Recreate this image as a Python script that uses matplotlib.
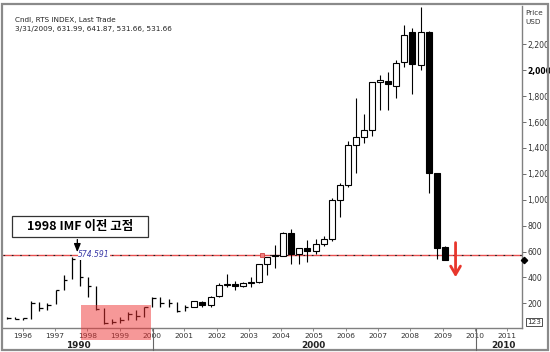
import matplotlib
matplotlib.use("Agg")
import matplotlib.pyplot as plt
from matplotlib.patches import Rectangle
import numpy as np

plt.rcParams['font.family'] = ['DejaVu Sans']

# ---- data (quarterly candles, RTS index) ----
quarters = ["1995Q3", "1995Q4",
            "1996Q1", "1996Q2", "1996Q3", "1996Q4",
            "1997Q1", "1997Q2", "1997Q3", "1997Q4",
            "1998Q1", "1998Q2", "1998Q3", "1998Q4",
            "1999Q1", "1999Q2", "1999Q3", "1999Q4",
            "2000Q1", "2000Q2", "2000Q3", "2000Q4",
            "2001Q1", "2001Q2", "2001Q3", "2001Q4",
            "2002Q1", "2002Q2", "2002Q3", "2002Q4",
            "2003Q1", "2003Q2", "2003Q3", "2003Q4",
            "2004Q1", "2004Q2", "2004Q3", "2004Q4",
            "2005Q1", "2005Q2", "2005Q3", "2005Q4",
            "2006Q1", "2006Q2", "2006Q3", "2006Q4",
            "2007Q1", "2007Q2", "2007Q3", "2007Q4",
            "2008Q1", "2008Q2", "2008Q3", "2008Q4",
            "2009Q1"]
opens = [95, 88, 82, 84, 200, 165, 195, 300, 390, 540,
         400, 330, 155, 45, 58, 72, 120, 102,
         175, 240, 200, 205, 143, 172, 210, 188,
         255, 345, 352, 335, 358, 365, 500, 570,
         567, 745, 580, 627, 605, 658, 696, 1000,
         1112, 1421, 1483, 1537, 1907, 1915, 1877, 2062,
         2293, 2039, 2293, 1204, 631.99]
highs = [97, 92, 90, 215, 210, 200, 305, 420, 560, 574.591,
         405, 335, 165, 75, 92, 132, 145, 175,
         245, 245, 230, 210, 190, 220, 215, 258,
         360, 430, 375, 362, 400, 505, 560, 650,
         750, 775, 630, 690, 700, 720, 1010, 1130,
         1450, 1785, 1660, 1910, 1961, 1985, 2078, 2347,
         2324, 2487, 2300, 1210, 641.87]
lows = [82, 76, 70, 80, 140, 148, 195, 300, 385, 330,
        250, 148, 38, 40, 50, 70, 72, 95,
        168, 170, 175, 130, 138, 168, 175, 172,
        250, 325, 300, 325, 325, 355, 420, 470,
        565, 500, 500, 520, 580, 640, 680, 870,
        1100, 1204, 1436, 1490, 1690, 1690, 1783, 2023,
        1813, 2000, 1050, 541, 531.66]
closes = [88, 82, 84, 200, 165, 190, 300, 380, 540, 400,
          330, 155, 45, 58, 72, 120, 102, 175,
          240, 200, 205, 143, 170, 215, 188, 250,
          345, 352, 335, 358, 365, 500, 555, 565,
          743, 580, 627, 605, 658, 696, 1000, 1112,
          1421, 1483, 1537, 1907, 1923, 1890, 2055, 2270,
          2047, 2293, 1204, 627, 531.66]

prior_high = 574.591
last_close = 531.66
year_ticks = list(range(1996, 2012))
decades = ["1990", "2000", "2010"]
price_ticks = list(range(200, 2201, 200))
bar_style_count = 23   # early quarters drawn as thin high-low/close bars

W, H = 550, 352
fig = plt.figure(figsize=(W / 100, H / 100), dpi=100)


def fx(px):
    return px / W


def fy(py):
    return 1 - py / H


ax = fig.add_axes([fx(3), fy(328), fx(522) - fx(3), fy(6) - fy(328)])
ax.set_xlim(1995.449, 2011.517)
ax.set_ylim(9.3, 2495.8)

xs = np.array([int(q[:4]) + (int(q[-1]) - 0.5) / 4 for q in quarters])
bw = 0.186

for i, (x, o, h, l, c) in enumerate(zip(xs, opens, highs, lows, closes)):
    if i < bar_style_count:
        xl = x - 0.05
        ax.plot([xl, xl], [l, h], color='black', lw=0.9, zorder=2,
                solid_capstyle='butt')
        ax.plot([xl, xl + 0.11], [c, c], color='black', lw=0.9, zorder=2,
                solid_capstyle='butt')
        continue
    up = c >= o
    lo_b, hi_b = min(o, c), max(o, c)
    ax.plot([x, x], [l, lo_b], color='black', lw=0.8, zorder=2, solid_capstyle='butt')
    ax.plot([x, x], [hi_b, h], color='black', lw=0.8, zorder=2, solid_capstyle='butt')
    height = max(hi_b - lo_b, 4)
    ax.add_patch(Rectangle((x - bw / 2, lo_b), bw, height,
                           facecolor='white' if up else 'black',
                           edgecolor='black', lw=0.8, zorder=3))

# horizontal prior-high line
ax.axhline(prior_high, color='#e85050', lw=1.0, zorder=1)
ax.axhline(prior_high, color='#202020', lw=0.8, ls=(0, (1.5, 6)), zorder=1)
ax.plot([2003.47], [prior_high], marker='s', ms=3.5, color='#f08080',
        mec='#d04040', mew=0.6, zorder=4)
ax.text(1997.78, prior_high, "574.591", color='#3a3aa8', fontsize=5.5,
        style='italic', va='center', ha='left', zorder=5,
        bbox=dict(facecolor='white', edgecolor='none', pad=0.3))

# right-side last value marker
ax.plot([2011.58], [last_close], marker='D', ms=3.2, color='black',
        clip_on=False, zorder=6)

# axes styling
for s in ['left', 'top']:
    ax.spines[s].set_visible(False)
for s in ['right', 'bottom']:
    ax.spines[s].set_color('#808080')
    ax.spines[s].set_linewidth(1.0)

ax.yaxis.tick_right()
ax.set_yticks(price_ticks)
ax.set_yticklabels([f"{v:,}" for v in price_ticks])
ax.tick_params(axis='y', length=3, width=0.6, color='#555555',
               labelsize=5.6, labelcolor='#333333', pad=1)
for lab in ax.get_yticklabels():
    if lab.get_text() == "2,000":
        lab.set_fontweight('bold')
        lab.set_fontsize(5.5)
        lab.set_color('black')

ax.set_xticks([y + 0.06 for y in year_ticks])
ax.set_xticklabels([str(y) for y in year_ticks])
ax.tick_params(axis='x', length=2, width=0.6, color='#777777',
               labelsize=5.4, labelcolor='#333333', pad=1.5)

# decade row
for label, px in zip(decades, [78, 313, 503]):
    fig.text(fx(px), fy(346), label, fontsize=6.4, fontweight='bold',
             ha='center', va='center', color='#222222')
for px in [153, 476]:
    fig.add_artist(plt.Line2D([fx(px), fx(px)], [fy(329), fy(350)],
                              color='#666666', lw=0.8))

# outer frame
fig.add_artist(Rectangle((fx(2), fy(350)), fx(548) - fx(2), fy(4) - fy(350),
                         transform=fig.transFigure, fill=False,
                         edgecolor='#8a8a8a', lw=1.6))

# header text
fig.text(fx(15), fy(20), "Cndl, RTS INDEX, Last Trade", fontsize=5.2,
         va='center', ha='left', color='#222222')
fig.text(fx(15), fy(29), "3/31/2009, 631.99, 641.87, 531.66, 531.66",
         fontsize=5.2, va='center', ha='left', color='#222222')
fig.text(fx(525), fy(13), "Price", fontsize=5.2, va='center', ha='left', color='#333333')
fig.text(fx(525), fy(22), "USD", fontsize=5.2, va='center', ha='left', color='#333333')
fig.text(fx(534), fy(322), "123", fontsize=5.2, va='center', ha='center', color='#333333',
         bbox=dict(facecolor='white', edgecolor='#333333', lw=0.6, pad=0.8))

# red highlight box
fig.add_artist(Rectangle((fx(81), fy(340)), fx(151) - fx(81), fy(305) - fy(340),
                         transform=fig.transFigure, facecolor='#ee3333',
                         edgecolor='none', alpha=0.5, zorder=10))

# annotation box
fig.add_artist(Rectangle((fx(12), fy(237)), fx(148) - fx(12), fy(216) - fy(237),
                         transform=fig.transFigure, facecolor='white',
                         edgecolor='#333333', lw=0.9, zorder=11))
fig.text(fx(80), fy(226.5), "1998 IMF 이전 고점", fontsize=9, fontweight='bold',
         family=['Noto Sans CJK KR', 'DejaVu Sans'], ha='center', va='center',
         zorder=12)
ax.annotate("", xy=(1997.75, prior_high + 20), xytext=(1997.75, prior_high + 118),
            arrowprops=dict(arrowstyle='-|>,head_length=0.5,head_width=0.2',
                            color='black', lw=0.9, shrinkA=0, shrinkB=0),
            annotation_clip=False)

# red down arrow
ax.annotate("", xy=(2009.46, 380), xytext=(2009.46, 690),
            arrowprops=dict(arrowstyle='->,head_length=0.6,head_width=0.35',
                            color='#e8362c', lw=2.0))

fig.savefig("out.png", dpi=100)
